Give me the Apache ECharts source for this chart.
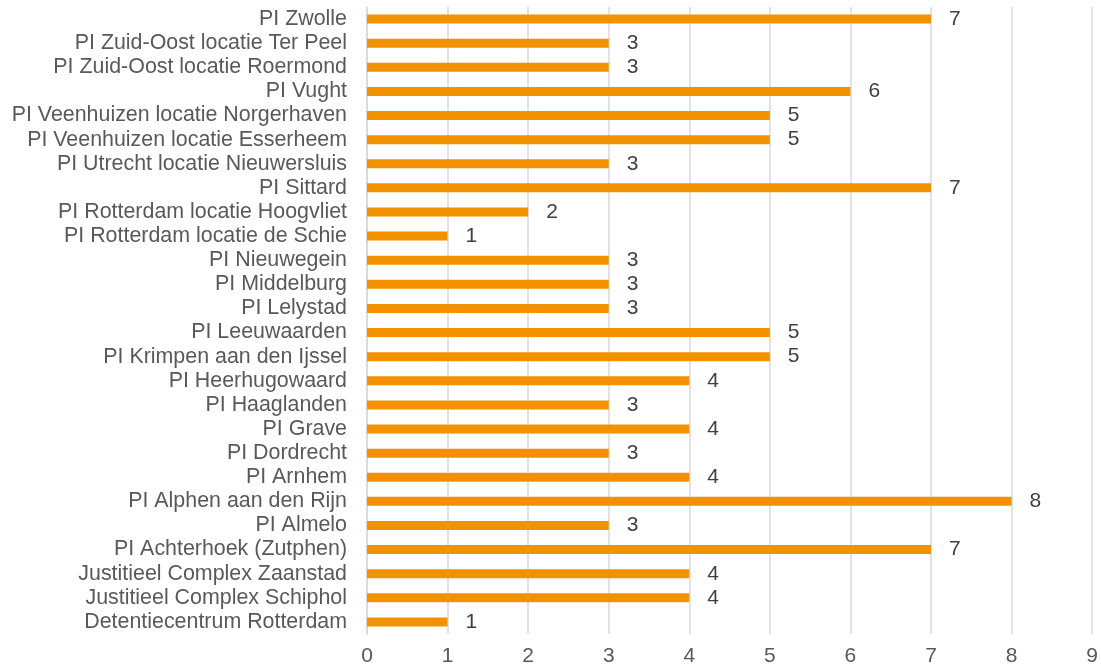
<!DOCTYPE html>
<html>
<head>
<meta charset="utf-8">
<script src="https://cdn.jsdelivr.net/npm/echarts@6/dist/echarts.min.js"></script>
<style>
  html, body { margin: 0; padding: 0; background: #fff; }
  #main { width: 1101px; height: 670px; }
</style>
</head>
<body>
<div id="main"></div>
<script>
var categories = [
  'PI Zwolle', 'PI Zuid-Oost locatie Ter Peel', 'PI Zuid-Oost locatie Roermond', 'PI Vught',
  'PI Veenhuizen locatie Norgerhaven', 'PI Veenhuizen locatie Esserheem', 'PI Utrecht locatie Nieuwersluis',
  'PI Sittard', 'PI Rotterdam locatie Hoogvliet', 'PI Rotterdam locatie de Schie', 'PI Nieuwegein',
  'PI Middelburg', 'PI Lelystad', 'PI Leeuwaarden', 'PI Krimpen aan den Ijssel', 'PI Heerhugowaard',
  'PI Haaglanden', 'PI Grave', 'PI Dordrecht', 'PI Arnhem', 'PI Alphen aan den Rijn', 'PI Almelo',
  'PI Achterhoek (Zutphen)', 'Justitieel Complex Zaanstad', 'Justitieel Complex Schiphol',
  'Detentiecentrum Rotterdam'
];
var values = [7, 3, 3, 6, 5, 5, 3, 7, 2, 1, 3, 3, 3, 5, 5, 4, 3, 4, 3, 4, 8, 3, 7, 4, 4, 1];

var chart = echarts.init(document.getElementById('main'));
chart.setOption({
  animation: false,
  textStyle: { fontFamily: 'Liberation Sans, Arial, sans-serif' },
  grid: { left: 367, right: 7, top: 7, bottom: 36, containLabel: false },
  xAxis: {
    type: 'value',
    min: 0,
    max: 9,
    interval: 1,
    axisLine: { show: false },
    axisTick: { show: false },
    axisLabel: { color: '#595959', fontSize: 21, margin: 12 },
    splitLine: { lineStyle: { color: '#d9d9d9', width: 1.5 } }
  },
  yAxis: {
    type: 'category',
    inverse: true,
    data: categories,
    axisLine: { show: true, lineStyle: { color: '#d9d9d9', width: 1.5 } },
    axisTick: { show: false },
    axisLabel: { color: '#595959', fontSize: 21.4, margin: 20, interval: 0 }
  },
  series: [{
    type: 'bar',
    data: values,
    barWidth: 9,
    itemStyle: { color: '#f39200' },
    label: {
      show: true,
      position: 'right',
      distance: 18,
      color: '#404040',
      fontSize: 21
    }
  }]
});
</script>
</body>
</html>
